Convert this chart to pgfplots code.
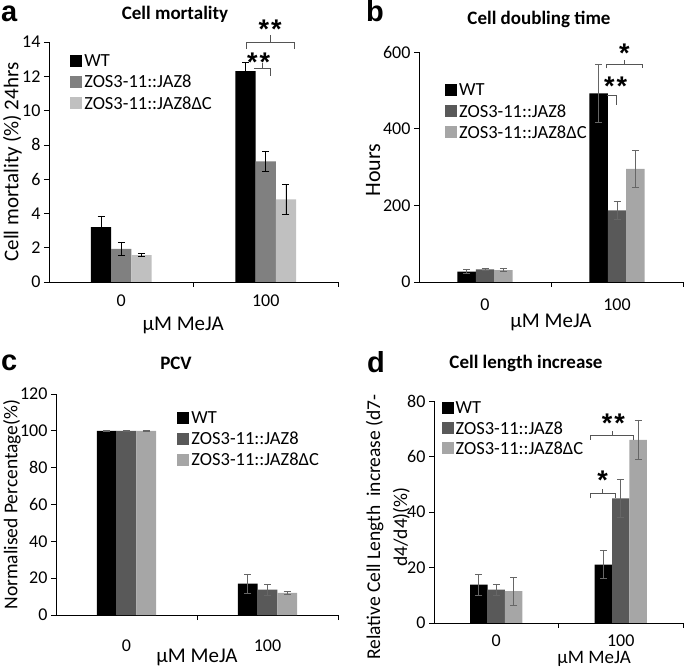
\documentclass[border=0pt]{standalone}
\usepackage{fontspec}
\setmainfont{Carlito}
\newfontfamily\letterfont{Liberation Sans}
\usepackage{pgfplots}
\pgfplotsset{compat=1.18}
\definecolor{aJ}{HTML}{808080}
\definecolor{aC}{HTML}{C0C0C0}
\definecolor{bJ}{HTML}{595959}
\definecolor{bC}{HTML}{A6A6A6}
\definecolor{errb}{HTML}{666666}
\definecolor{brk}{HTML}{555555}
\tikzset{sigstar/.style={font=\fontsize{27}{27}\selectfont\letterfont\bfseries, inner sep=0pt}}

\pgfplotsset{
  panel/.style={
    scale only axis,
    axis x line=bottom, axis y line=left,
    axis line style={-, line width=0.7pt, black},
    xmin=-0.5, xmax=1.5, ymin=0,
    enlargelimits=false, clip=false,
    xtick={0,1}, xticklabels={0,100},
    minor xtick={0.5,1.5},
    major x tick style={draw=none},
    tick align=outside,
    major tick length=5pt, minor tick length=5pt,
    tick style={line width=0.7pt, black},
    ybar, bar width=0.14,
    tick label style={font=\fontsize{18}{20}\selectfont},
    label style={font=\fontsize{21}{24}\selectfont},
    /pgf/number format/assume math mode=true,
    legend style={draw=none, fill=none, font=\fontsize{18.5}{22}\selectfont, anchor=north west, row sep=3pt, inner sep=0pt},
    legend cell align=left,
    legend image code/.code={\fill[##1,draw=none] (0pt,-5.5pt) rectangle (12pt,6.5pt);},
  },
  barplot/.style={draw=none, fill=#1,
    error bars/y dir=both, error bars/y explicit},
}

\begin{document}
\begin{tikzpicture}
\path[use as bounding box] (0,0) rectangle (685pt,669pt);

% ---------------- panel a
\begin{axis}[panel, at={(49pt,387pt)}, anchor=south west,
  width=289pt, height=240pt, ymax=14, ytick={0,2,...,14},
  xticklabel style={yshift=-4pt},
  xlabel={μM MeJA}, xlabel style={at={(axis description cs:0.464,0)}, anchor=center, yshift=-43pt},
  ylabel={Cell mortality (\%) 24hrs}, ylabel style={at={(axis description cs:-0.127,0.5)}, anchor=center, font=\fontsize{21}{24}\selectfont},
  legend style={at={(axis description cs:0.073,0.955)}},
  error bars/error bar style={line width=0.7pt, black},
  error bars/error mark options={rotate=90, mark size=3.5pt, line width=0.7pt, black},
]
\addplot[barplot=black, bar shift=-0.14] table[x=x,y=y,y error=e] {
x y e
0 3.2 0.65
1 12.3 0.5
};
\addplot[barplot=aJ, bar shift=0] table[x=x,y=y,y error=e] {
x y e
0 1.93 0.38
1 7.04 0.6
};
\addplot[barplot=aC, bar shift=0.14] table[x=x,y=y,y error=e] {
x y e
0 1.57 0.1
1 4.82 0.9
};
\legend{WT, ZOS3-11::JAZ8, ZOS3-11::JAZ8ΔC}
\draw[brk, line width=0.8pt] (axis cs:0.863,13.6) -- (axis cs:0.863,14) -- (axis cs:1.195,14) -- (axis cs:1.195,13.6);
\draw[brk, line width=0.8pt] (axis cs:1.03,14) -- (axis cs:1.03,14.4);
\node[sigstar] at (axis cs:1.03,14.75) {*\kern2pt*};
\draw[brk, line width=0.8pt] (axis cs:0.92,12.48) -- (axis cs:1.03,12.48) -- (axis cs:1.03,12.0);
\draw[brk, line width=0.8pt] (axis cs:0.975,12.48) -- (axis cs:0.975,12.75);
\node[sigstar] at (axis cs:0.95,12.8) {*\kern2pt*};
\end{axis}

% ---------------- panel b
\begin{axis}[panel, at={(419pt,387pt)}, anchor=south west,
  width=264pt, height=230pt, ymax=600, ytick={0,200,400,600},
  xticklabel style={yshift=-8pt},
  xlabel={μM MeJA}, xlabel style={at={(axis description cs:0.5,0)}, anchor=center, yshift=-40pt},
  ylabel={Hours}, ylabel style={at={(axis description cs:-0.174,0.487)}, anchor=center, font=\fontsize{22}{24}\selectfont},
  legend style={at={(axis description cs:0.098,0.87)}},
  error bars/error bar style={line width=0.7pt, errb},
  error bars/error mark options={rotate=90, mark size=3.5pt, line width=0.7pt, errb},
]
\addplot[barplot=black, bar shift=-0.14] table[x=x,y=y,y error=e] {
x y e
0 27 5
1 492 75
};
\addplot[barplot=bJ, bar shift=0] table[x=x,y=y,y error=e] {
x y e
0 33 2
1 187 23
};
\addplot[barplot=bC, bar shift=0.14] table[x=x,y=y,y error=e] {
x y e
0 31 4
1 295 48
};
\legend{WT, ZOS3-11::JAZ8, ZOS3-11::JAZ8ΔC}
\draw[brk, line width=0.8pt] (axis cs:0.922,557) -- (axis cs:0.922,568) -- (axis cs:1.195,568) -- (axis cs:1.195,557);
\draw[brk, line width=0.8pt] (axis cs:1.055,568) -- (axis cs:1.055,580);
\node[sigstar] at (axis cs:1.055,598) {*};
\draw[brk, line width=0.8pt] (axis cs:0.922,488) -- (axis cs:0.998,488) -- (axis cs:0.998,462);
\node[sigstar] at (axis cs:0.99,510) {*\kern2pt*};
\end{axis}

% ---------------- panel c
\begin{axis}[panel, at={(56pt,54pt)}, anchor=south west,
  width=282pt, height=221pt, ymax=120, ytick={0,20,...,120},
  xticklabel style={yshift=-16pt},
  xlabel={μM MeJA}, xlabel style={at={(axis description cs:0.5,0)}, anchor=center, yshift=-42pt},
  ylabel={Normalised Percentage(\%)}, ylabel style={at={(axis description cs:-0.156,0.5)}, anchor=center, font=\fontsize{19.5}{22}\selectfont},
  legend style={at={(axis description cs:0.43,0.93)}},
  error bars/error bar style={line width=0.7pt, errb},
  error bars/error mark options={rotate=90, mark size=3.5pt, line width=0.7pt, errb},
]
\addplot[barplot=black, bar shift=-0.14] table[x=x,y=y,y error=e] {
x y e
0 100 0.2
1 17 5
};
\addplot[barplot=bJ, bar shift=0] table[x=x,y=y,y error=e] {
x y e
0 100 0.2
1 13.8 3
};
\addplot[barplot=bC, bar shift=0.14] table[x=x,y=y,y error=e] {
x y e
0 100 0.2
1 12 0.8
};
\legend{WT, ZOS3-11::JAZ8, ZOS3-11::JAZ8ΔC}
\end{axis}

% ---------------- panel d
\begin{axis}[panel, at={(434pt,46pt)}, anchor=south west,
  width=249pt, height=222pt, ymax=80, ytick={0,20,...,80},
  xticklabel style={yshift=-3pt},
  xlabel={μM MeJA}, xlabel style={at={(axis description cs:0.643,0)}, anchor=center, yshift=-36pt, font=\fontsize{19}{21}\selectfont},
  ylabel={Relative Cell Length\ \ increase (d7-\\d4/d4)(\%)}, ylabel style={at={(axis description cs:-0.185,0.432)}, anchor=center, align=center, font=\fontsize{19.5}{27}\selectfont},
  legend style={at={(axis description cs:0.03,1.005)}, row sep=2pt},
  error bars/error bar style={line width=0.7pt, errb},
  error bars/error mark options={rotate=90, mark size=3.5pt, line width=0.7pt, errb},
]
\addplot[barplot=black, bar shift=-0.14] table[x=x,y=y,y error=e] {
x y e
0 13.8 3.8
1 21 5
};
\addplot[barplot=bJ, bar shift=0] table[x=x,y=y,y error=e] {
x y e
0 12 2.1
1 44.9 7
};
\addplot[barplot=bC, bar shift=0.14] table[x=x,y=y,y error=e] {
x y e
0 11.5 5
1 66 7.2
};
\legend{WT, ZOS3-11::JAZ8, ZOS3-11::JAZ8ΔC}
\draw[brk, line width=0.8pt] (axis cs:0.759,66) -- (axis cs:0.759,67.7) -- (axis cs:1.101,67.7) -- (axis cs:1.101,66);
\draw[brk, line width=0.8pt] (axis cs:0.932,67.7) -- (axis cs:0.932,69.2);
\node[sigstar] at (axis cs:0.94,72) {*\kern2pt*};
\draw[brk, line width=0.8pt] (axis cs:0.759,44.9) -- (axis cs:0.759,46.7) -- (axis cs:0.954,46.7) -- (axis cs:0.954,44.9);
\draw[brk, line width=0.8pt] (axis cs:0.855,46.7) -- (axis cs:0.855,48.3);
\node[sigstar] at (axis cs:0.855,51.3) {*};
\end{axis}

% titles and panel letters
\node[font=\fontsize{19}{21}\selectfont\bfseries] at (175pt,655pt) {Cell mortality};
\node[font=\fontsize{19}{21}\selectfont\bfseries] at (539pt,650pt) {Cell doubling time};
\node[font=\fontsize{19}{21}\selectfont\bfseries] at (176pt,306pt) {PCV};
\node[font=\fontsize{19}{21}\selectfont\bfseries] at (526pt,306pt) {Cell length increase};
\node[font=\fontsize{29}{29}\selectfont\letterfont\bfseries, anchor=base west, inner sep=0pt] at (1pt,647pt) {a};
\node[font=\fontsize{29}{29}\selectfont\letterfont\bfseries, anchor=base west, inner sep=0pt] at (366pt,647pt) {b};
\node[font=\fontsize{29}{29}\selectfont\letterfont\bfseries, anchor=base west, inner sep=0pt] at (1pt,298pt) {c};
\node[font=\fontsize{29}{29}\selectfont\letterfont\bfseries, anchor=base west, inner sep=0pt] at (367pt,296pt) {d};
\end{tikzpicture}
\end{document}
